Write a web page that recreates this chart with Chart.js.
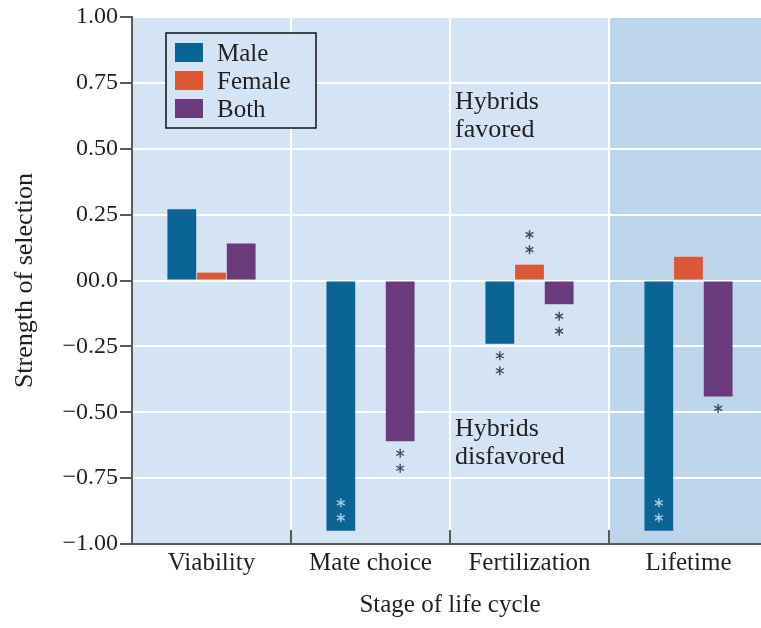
<!DOCTYPE html>
<html>
<head>
<meta charset="utf-8">
<script src="https://cdn.jsdelivr.net/npm/chart.js@4"></script>
<style>
  html, body { margin: 0; padding: 0; background: #fff; overflow: hidden; }
  #wrap { width: 768px; height: 628px; }
</style>
</head>
<body>
<div id="wrap"><canvas id="chart"></canvas></div>
<script>
// Stages and selection strengths
const stages = ['Viability', 'Mate choice', 'Fertilization', 'Lifetime'];
const maleVals = [0.27, -0.95, -0.24, -0.95];
const femaleVals = [0.03, null, 0.06, 0.09];
const bothVals = [0.14, -0.61, -0.09, -0.44];
const maleStars = ['', '**', '**', '**'];
const femaleStars = ['', '', '**', ''];
const bothStars = ['', '**', '**', '*'];
const yTickLabels = ['\u22121.00', '\u22120.75', '\u22120.50', '\u22120.25', '00.0', '0.25', '0.50', '0.75', '1.00'];

const SERIF = '"Liberation Serif", "DejaVu Serif", serif';
const INK = '#231f20';
const AXIS = '#5a5a5a';
const BG = '#d4e4f4';
const BG_DARK = '#bdd5ea';

const backdrop = {
  id: 'backdrop',
  beforeDraw(chart) {
    const { ctx, chartArea: a, scales: { x } } = chart;
    const half = (x.getPixelForValue(1) - x.getPixelForValue(0)) / 2;
    ctx.save();
    ctx.fillStyle = BG;
    ctx.fillRect(a.left, a.top, a.right - a.left, a.bottom - a.top);
    // the lifetime column is shaded darker
    const lx = x.getPixelForValue(3) - half;
    ctx.fillStyle = BG_DARK;
    ctx.fillRect(lx, a.top, a.right - lx, a.bottom - a.top);
    ctx.restore();
  },
};

function drawStar(ctx, cx, cy, color) {
  ctx.strokeStyle = color;
  ctx.lineWidth = 1.4;
  const r = 4.5;
  for (let k = 0; k < 3; k++) {
    const ang = Math.PI / 2 + k * Math.PI / 3;
    ctx.beginPath();
    ctx.moveTo(cx - r * Math.cos(ang), cy - r * Math.sin(ang));
    ctx.lineTo(cx + r * Math.cos(ang), cy + r * Math.sin(ang));
    ctx.stroke();
  }
}

const extras = {
  id: 'extras',
  afterDraw(chart) {
    const { ctx, chartArea: a, scales: { x } } = chart;
    const half = (x.getPixelForValue(1) - x.getPixelForValue(0)) / 2;
    ctx.save();

    // inward ticks on the category axis
    ctx.strokeStyle = AXIS;
    ctx.lineWidth = 2;
    for (let i = 1; i < stages.length; i++) {
      const px = Math.round(x.getPixelForValue(i) - half);
      ctx.beginPath();
      ctx.moveTo(px, a.bottom);
      ctx.lineTo(px, a.bottom - 14);
      ctx.stroke();
    }

    // significance asterisks
    const starSets = [maleStars, femaleStars, bothStars];
    chart.data.datasets.forEach((ds, di) => {
      const meta = chart.getDatasetMeta(di);
      meta.data.forEach((bar, i) => {
        const s = starSets[di][i];
        if (!s || ds.data[i] == null) return;
        const v = ds.data[i];
        let y0, dir, color;
        if (v < -0.9) { y0 = bar.y - 13; dir = -1; color = '#9fd0ea'; }
        else if (v < 0) { y0 = bar.y + 12; dir = 1; color = '#3c4a5a'; }
        else { y0 = bar.y - 15; dir = -1; color = '#3c4a5a'; }
        for (let k = 0; k < s.length; k++) drawStar(ctx, bar.x, y0 + dir * k * 15, color);
      });
    });

    // legend box
    ctx.fillStyle = BG;
    ctx.fillRect(166, 33, 150, 95);
    ctx.strokeStyle = '#111';
    ctx.lineWidth = 1.5;
    ctx.strokeRect(166, 33, 150, 95);
    ctx.font = '25px ' + SERIF;
    ctx.textBaseline = 'middle';
    chart.data.datasets.forEach((ds, di) => {
      const cy = 53 + di * 28;
      ctx.fillStyle = ds.backgroundColor;
      ctx.fillRect(175, cy - 10, 28, 19);
      ctx.fillStyle = INK;
      ctx.fillText(ds.label, 217, cy + 1);
    });

    // region notes
    ctx.font = '26px ' + SERIF;
    ctx.fillText('Hybrids', 455, 102);
    ctx.fillText('favored', 455, 130);
    ctx.fillText('Hybrids', 455, 429);
    ctx.fillText('disfavored', 455, 457);
    ctx.restore();
  },
};

new Chart(document.getElementById('chart'), {
  type: 'bar',
  data: {
    labels: stages,
    datasets: [
      { label: 'Male', data: maleVals, backgroundColor: '#0a6496' },
      { label: 'Female', data: femaleVals, backgroundColor: '#dc5734' },
      { label: 'Both', data: bothVals, backgroundColor: '#6a3b7c' },
    ],
  },
  options: {
    responsive: true,
    maintainAspectRatio: false,
    animation: false,
    categoryPercentage: 0.56,
    barPercentage: 0.97,
    layout: { padding: { top: 17, right: 0, left: 0, bottom: 0 } },
    plugins: { legend: { display: false }, tooltip: { enabled: false } },
    scales: {
      x: {
        grid: { color: '#ffffff', lineWidth: 2, drawTicks: false, offset: true },
        border: { color: AXIS, width: 2 },
        ticks: { color: INK, font: { family: SERIF, size: 25 }, padding: 4 },
        title: { display: true, text: 'Stage of life cycle', color: INK, font: { family: SERIF, size: 25 }, padding: { top: 0, bottom: 8 } },
        afterFit: (s) => { s.height = 84; },
      },
      y: {
        min: -1,
        max: 1,
        ticks: {
          stepSize: 0.25,
          color: INK,
          font: { family: SERIF, size: 24 },
          padding: 2,
          callback: (v, i) => yTickLabels[i],
        },
        grid: { color: '#ffffff', lineWidth: 2, tickColor: AXIS, tickLength: 12 },
        border: { color: AXIS, width: 2 },
        title: { display: true, text: 'Strength of selection', color: INK, font: { family: SERIF, size: 26 }, padding: { top: 10, bottom: 0 } },
        afterFit: (s) => { s.width = 132; },
      },
    },
  },
  plugins: [backdrop, extras],
});
</script>
</body>
</html>
